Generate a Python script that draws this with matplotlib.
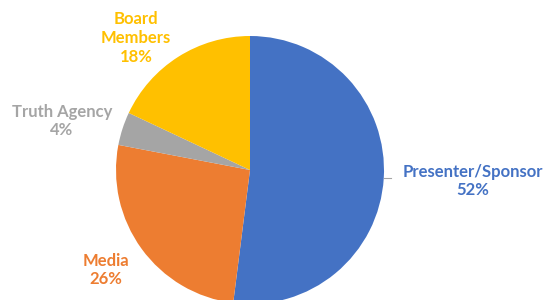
import numpy as np
import matplotlib
matplotlib.use("Agg")
import matplotlib.pyplot as plt

categories = ["Presenter/Sponsor", "Media", "Truth Agency", "Board\nMembers"]
values = [52, 26, 4, 18]
colors = ["#4472C4", "#ED7D31", "#A5A5A5", "#FFC000"]

W, H = 557, 300
fig = plt.figure(figsize=(W / 100, H / 100), dpi=100)
ax = fig.add_axes([0, 0, 1, 1])

cx, cy, r = 250, H - 170, 134
wedges, _ = ax.pie(values, colors=colors, startangle=90, counterclock=False,
                   center=(cx, cy), radius=r, frame=True,
                   wedgeprops=dict(linewidth=0))
ax.set_xlim(0, W)
ax.set_ylim(0, H)
ax.set_aspect("equal")
ax.axis("off")

# label positions (pixel coords from top)
label_pos = [(473, 181), (106, 270), (62, 121), (136, 38)]
for cat, val, col, (lx, ly) in zip(categories, values, colors, label_pos):
    ax.text(lx, H - ly, f"{cat}\n{val}%", ha="center", va="center", color=col,
            fontsize=12, fontweight="bold", family=["Lato", "DejaVu Sans"],
            linespacing=1.2)

# leader line for first slice
ang = np.deg2rad(90 - values[0] / sum(values) * 360 / 2)
x0, y0 = cx + r * np.cos(ang), cy + r * np.sin(ang)
ax.plot([x0, x0 + 7], [y0, y0], color="#A5A5A5", lw=0.8)

fig.savefig("out.png", dpi=100)
